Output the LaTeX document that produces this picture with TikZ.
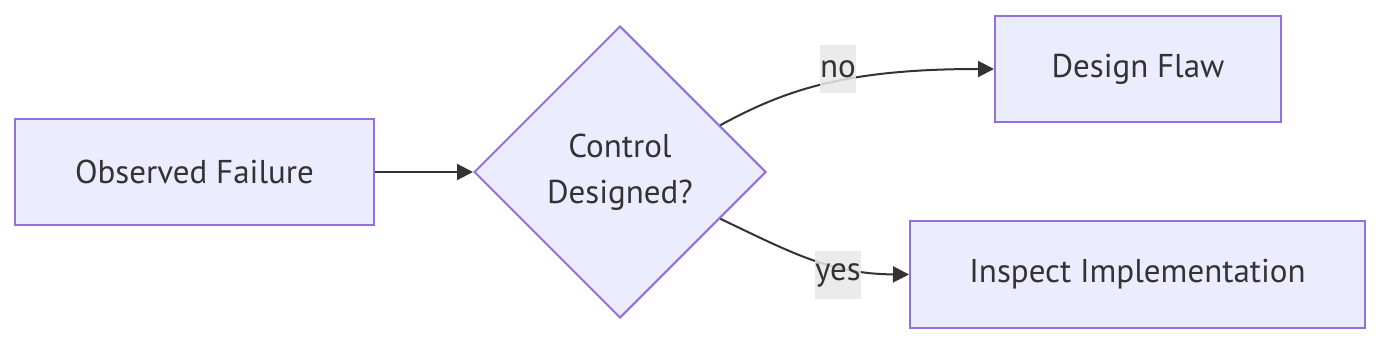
\documentclass[tikz,border=0pt]{standalone}
\usepackage{fontspec}
\setmainfont{PT Sans}
\usetikzlibrary{shapes.geometric,arrows.meta}
\definecolor{nodefill}{HTML}{ECECFF}
\definecolor{nodestroke}{HTML}{9370DB}
\definecolor{ink}{HTML}{333333}
\definecolor{lblbg}{HTML}{E8E8E8}
\tikzset{
  box/.style={draw=nodestroke, fill=nodefill, line width=2pt, text=ink, inner sep=0pt,
    font=\fontsize{33}{46}\selectfont},
  decision/.style={diamond, aspect=1, draw=nodestroke, fill=nodefill, line width=2pt, text=ink,
    inner sep=0pt, minimum size=292pt, align=center, font=\fontsize{33}{46}\selectfont},
  edge/.style={draw=ink, line width=2pt, -{Triangle[length=16pt,width=16pt]}},
  lbl/.style={fill=lblbg, fill opacity=0.85, text opacity=1, text=ink, inner sep=0pt,
    minimum height=48pt, font=\fontsize{33}{46}\selectfont},
}
\begin{document}
\begin{tikzpicture}[x=1pt,y=-1pt]
\useasboundingbox (0,0) rectangle (1398,348);
\node[box, minimum width=359pt, minimum height=106pt] (obs) at (194.5,172) {Observed Failure};
\node[decision] (ctl) at (620,172) {Control\\Designed?};
\node[box, minimum width=286pt, minimum height=106pt] (flaw) at (1138,69) {Design Flaw};
\node[box, minimum width=455pt, minimum height=107pt] (impl) at (1137.5,274.5) {Inspect Implementation};
\draw[edge] (obs.east) -- (ctl.west);
\draw[edge] (ctl.25) .. controls (785,90) and (845,69) .. (flaw.west);
\draw[edge] (ctl.-25) .. controls (790,252) and (830,274) .. (impl.west);
\node[lbl] (no) at (838,69) {no};
\node[lbl] (yes) at (838,275) {yes};
\end{tikzpicture}
\end{document}
